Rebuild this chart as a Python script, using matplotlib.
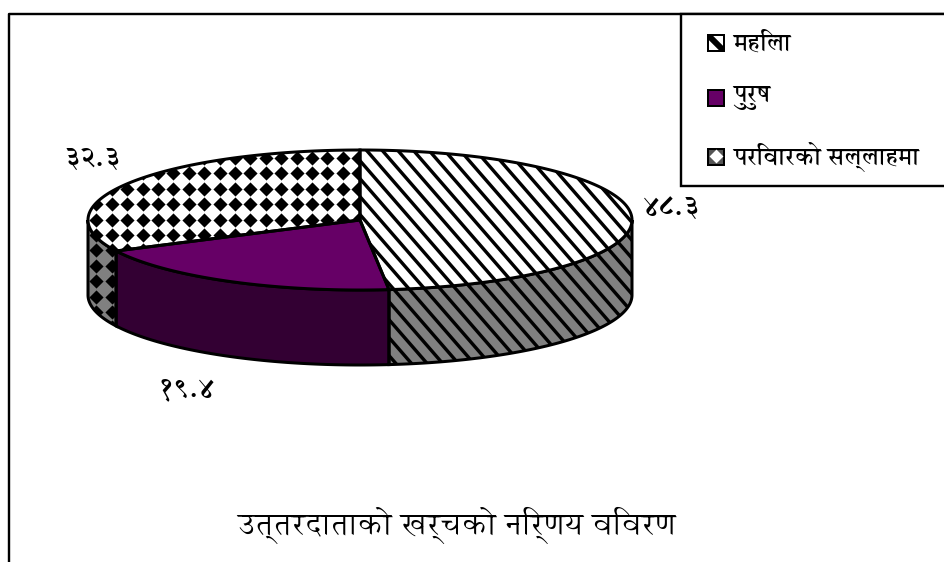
import numpy as np
import matplotlib
matplotlib.use('Agg')
import matplotlib.pyplot as plt
from matplotlib.patches import Polygon, Rectangle

plt.rcParams['font.family'] = ['Annapurna SIL', 'FreeSerif', 'DejaVu Sans']

# data
categories = ['महिला', 'पुरुष', 'परिवारको सल्लाहमा']
values = [48.3, 19.4, 32.3]
value_labels = ['४८.३', '१९.४', '३२.३']
title = 'उत्तरदाताको खर्चको निर्णय विवरण'

PX = 0.72  # one pixel in points at dpi 100
cx, cy, a, b, depth = 360, 220, 272, 70, 75
GREY = '#808080'


def top_pts(t0, t1):
    t = np.radians(np.linspace(t0, t1, 200))
    return np.column_stack([cx + a * np.sin(t), cy - b * np.cos(t)])


def wedge_top(t0, t1):
    return np.vstack([[cx, cy], top_pts(t0, t1)])


def wedge_side(t0, t1):
    # only the front half of the rim can be seen
    t0, t1 = max(t0, 90), min(t1, 270)
    if t1 <= t0:
        return None
    p = top_pts(t0, t1)
    return np.vstack([p, (p + [0, depth])[::-1]])


def stripes(ax, clip):
    for k in range(-40, 40):
        xs = np.array([0, 945])
        ys = 152 + 1.15 * (xs - 368 - 15.6 * k)
        ln, = ax.plot(xs, ys, color='black', lw=3.4 * PX, solid_capstyle='butt', zorder=clip.get_zorder())
        ln.set_clip_path(clip)


def diamonds(ax, clip):
    gx, gy = np.meshgrid(np.arange(3.9, 945, 15.4), np.arange(3.9, 562, 15.4))
    sc = ax.scatter(gx.ravel(), gy.ravel(), marker='D', s=52, color='black', linewidths=0, zorder=clip.get_zorder())
    sc.set_clip_path(clip)


fig = plt.figure(figsize=(9.45, 5.62), dpi=100)
ax = fig.add_axes([0, 0, 1, 1])
ax.set_xlim(0, 945)
ax.set_ylim(562, 0)
ax.axis('off')

# frame, open at the bottom and right
ax.plot([8.5, 8.5, 945], [562, 13.5, 13.5], color='black', lw=2.4 * PX)

angles = np.cumsum([0] + values) / sum(values) * 360
tops = ['white', '#660066', 'white']
sides = [GREY, '#330033', GREY]
fills = [stripes, None, diamonds]

for i in range(len(values)):
    side = wedge_side(angles[i], angles[i + 1])
    if side is not None:
        p = ax.add_patch(Polygon(side, closed=True, fc=sides[i], ec='none', zorder=2))
        if fills[i]:
            fills[i](ax, p)
        ax.add_patch(Polygon(side, closed=True, fc='none', ec='black', lw=3 * PX, zorder=3))
for i in range(len(values)):
    top = wedge_top(angles[i], angles[i + 1])
    p = ax.add_patch(Polygon(top, closed=True, fc=tops[i], ec='none', zorder=4))
    if fills[i]:
        fills[i](ax, p)
    ax.add_patch(Polygon(top, closed=True, fc='none', ec='black', lw=3 * PX, zorder=5))

# value labels
label_pos = [(672, 209), (186, 390), (92, 160)]
for s, (x, y) in zip(value_labels, label_pos):
    ax.text(x, y, s, ha='center', va='center', fontsize=20, fontweight='bold')

# legend box runs off the right edge
ax.add_patch(Rectangle((681, 13.5), 270, 172.5, fc='white', ec='black', lw=2.4 * PX, zorder=6))
legend_y = [43, 98, 157]
for name, y, col in zip(categories, legend_y, ['white', '#660066', 'white']):
    sw = ax.add_patch(Rectangle((708, y - 8), 16, 16, fc=col, ec='black', lw=2 * PX, zorder=7))
    ax.text(733, y, name, ha='left', va='center', fontsize=17, fontweight='bold', zorder=7)
# swatch patterns
ln, = ax.plot([708, 724], [legend_y[0] - 8, legend_y[0] + 8], color='black', lw=6 * PX, zorder=7)
ln.set_clip_path(Rectangle((708, legend_y[0] - 8), 16, 16, transform=ax.transData))
ax.add_patch(Rectangle((708, legend_y[2] - 8), 16, 16, fc='#555555', ec='black', lw=2 * PX, zorder=7))
ax.scatter([716], [legend_y[2] - 1], marker='D', s=50, color='white', linewidths=0, zorder=8)

ax.text(456, 525, title, ha='center', va='center', fontsize=22.5)

fig.savefig('out.png', dpi=100)
